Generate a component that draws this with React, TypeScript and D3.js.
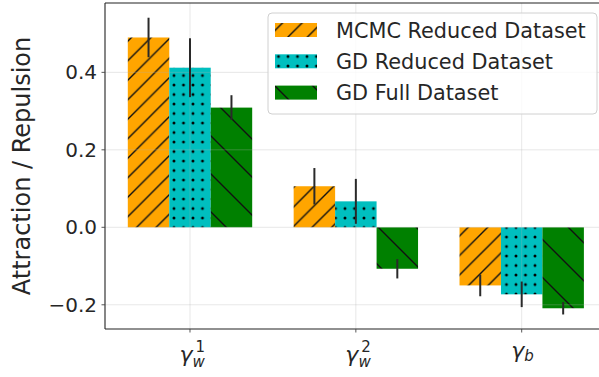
import * as d3 from "d3";

// categories (x ticks): gamma with subscript / superscript
const CAT_SUBS = ["w", "w", "b"];
const CAT_SUPS = ["1", "2", ""];

const SERIES = ["MCMC Reduced Dataset", "GD Reduced Dataset", "GD Full Dataset"];
const COLORS = ["#ffa500", "#00bfbf", "#008000"];

const MCMC_REDUCED = [0.49, 0.106, -0.15];
const MCMC_REDUCED_ERR = [0.051, 0.047, 0.028];
const GD_REDUCED = [0.412, 0.067, -0.173];
const GD_REDUCED_ERR = [0.076, 0.058, 0.033];
const GD_FULL = [0.309, -0.107, -0.209];
const GD_FULL_ERR = [0.032, 0.025, 0.016];

const Y_TICKS = [-0.2, 0, 0.2, 0.4];
const Y_TICK_LABELS = ["\u22120.2", "0.0", "0.2", "0.4"];

const VALUES = [MCMC_REDUCED, GD_REDUCED, GD_FULL];
const ERRORS = [MCMC_REDUCED_ERR, GD_REDUCED_ERR, GD_FULL_ERR];
const PATTERNS = ["hatch-fwd", "hatch-dots", "hatch-back"];

const WIDTH = 599;
const HEIGHT = 377;
const FONT = "DejaVu Sans";

export default function App() {
  const left = 105;
  const top = 3;
  const bottom = 329;
  const right = 606.7;
  const barFrac = 0.25;

  const x = d3.scaleLinear().domain([-0.5125, 2.5125]).range([left, right]);
  const y = d3.scaleLinear().domain([-0.2625, 0.579]).range([bottom, top]);
  const barW = x(barFrac) - x(0);

  const fs = 19.5; // hatch spacing "/"
  const bs = 38; // hatch spacing "\"
  const ds = 9.5; // dot spacing

  return (
    <svg
      width={WIDTH}
      height={HEIGHT}
      style={{ position: "fixed", left: 0, top: 0, background: "#fff" }}
      fontFamily={FONT}
    >
      <defs>
        <pattern id="hatch-fwd" patternUnits="userSpaceOnUse" x={13} y={0} width={fs} height={fs}>
          <rect width={fs} height={fs} fill={COLORS[0]} />
          <path
            d={`M0,${fs} L${fs},0 M${-fs / 2},${fs / 2} L${fs / 2},${-fs / 2} M${fs / 2},${fs * 1.5} L${fs * 1.5},${fs / 2}`}
            stroke="#111"
            strokeWidth={1.4}
          />
        </pattern>
        <pattern id="hatch-back" patternUnits="userSpaceOnUse" x={-1} y={0} width={bs} height={bs}>
          <rect width={bs} height={bs} fill={COLORS[2]} />
          <path
            d={`M0,0 L${bs},${bs} M${-bs / 2},${bs / 2} L${bs / 2},${bs * 1.5} M${bs / 2},${-bs / 2} L${bs * 1.5},${bs / 2}`}
            stroke="#111"
            strokeWidth={1.4}
          />
        </pattern>
        <pattern id="hatch-dots" patternUnits="userSpaceOnUse" x={174 - ds / 2} y={104 - ds / 2} width={ds} height={ds}>
          <rect width={ds} height={ds} fill={COLORS[1]} />
          <circle cx={ds / 2} cy={ds / 2} r={1.45} fill="#000" />
        </pattern>
      </defs>

      {/* Bars */}
      {VALUES.map((vals, j) =>
        vals.map((v, i) => {
          const cx = x(i + (j - 1) * barFrac);
          return (
            <rect
              key={`${j}-${i}`}
              x={cx - barW / 2}
              y={Math.min(y(v), y(0))}
              width={barW}
              height={Math.abs(y(v) - y(0))}
              fill={`url(#${PATTERNS[j]})`}
            />
          );
        })
      )}

      {/* Grid lines (drawn above bars, translucent) */}
      <g stroke="#b0b0b0" strokeOpacity={0.3} strokeWidth={1}>
        {Y_TICKS.map((t) => (
          <line key={t} x1={left} x2={right} y1={y(t)} y2={y(t)} />
        ))}
        {CAT_SUBS.map((_, i) => (
          <line key={i} x1={x(i)} x2={x(i)} y1={top} y2={bottom} />
        ))}
      </g>

      {/* Error bars */}
      {ERRORS.map((errs, j) =>
        errs.map((e, i) => {
          const cx = x(i + (j - 1) * barFrac);
          const v = VALUES[j][i];
          return (
            <line
              key={`e${j}-${i}`}
              x1={cx}
              x2={cx}
              y1={y(v + e)}
              y2={y(v - e)}
              stroke="#2a2a2a"
              strokeWidth={2}
            />
          );
        })
      )}

      {/* Spines */}
      <g stroke="#222" strokeWidth={1.1} fill="none">
        <line x1={left} x2={left} y1={top} y2={bottom} />
        <line x1={left} x2={right} y1={bottom} y2={bottom} />
        <line x1={left} x2={right} y1={top} y2={top} />
      </g>

      {/* Y axis ticks */}
      {Y_TICKS.map((t, k) => (
        <g key={t}>
          <line x1={left - 3.5} x2={left} y1={y(t)} y2={y(t)} stroke="#444" strokeWidth={0.9} />
          <text x={left - 8} y={y(t)} dy="0.35em" textAnchor="end" fontSize={20} fill="#262626">
            {Y_TICK_LABELS[k]}
          </text>
        </g>
      ))}

      {/* X axis ticks with math labels (one text each) */}
      {CAT_SUBS.map((sub, i) => {
        const cx = x(i);
        const hasSup = CAT_SUPS[i] !== "";
        const base = hasSup ? 362 : 358;
        const subDy = hasSup ? 5 : 2.5;
        return (
          <g key={i} fill="#262626">
            <line x1={cx} x2={cx} y1={bottom} y2={bottom + 3.5} stroke="#444" strokeWidth={0.9} />
            <text x={cx - 10.5} y={base} fontSize={22} fontStyle="italic">
              γ
              <tspan fontSize={15} dy={subDy}>
                {sub}
              </tspan>
              {hasSup && (
                <tspan fontSize={15} fontStyle="normal" dx={-9.3} dy={-subDy - 10}>
                  {CAT_SUPS[i]}
                </tspan>
              )}
            </text>
          </g>
        );
      })}

      {/* Y label */}
      <text
        transform={`translate(29.5, ${(top + bottom) / 2}) rotate(-90)`}
        textAnchor="middle"
        fontSize={24}
        fill="#262626"
      >
        Attraction / Repulsion
      </text>

      {/* Legend */}
      <rect x={268} y={13} width={329} height={101} rx={4} fill="#fff" fillOpacity={0.8} stroke="#d0d0d0" strokeWidth={1} />
      {SERIES.map((name, j) => {
        const rowY = 30 + j * 31.3;
        return (
          <g key={name}>
            <rect x={275} y={rowY - 7} width={42} height={14} fill={`url(#${PATTERNS[j]})`} />
            <text x={336} y={rowY + 7.5} fontSize={20.8} fill="#262626">
              {name}
            </text>
          </g>
        );
      })}
    </svg>
  );
}
